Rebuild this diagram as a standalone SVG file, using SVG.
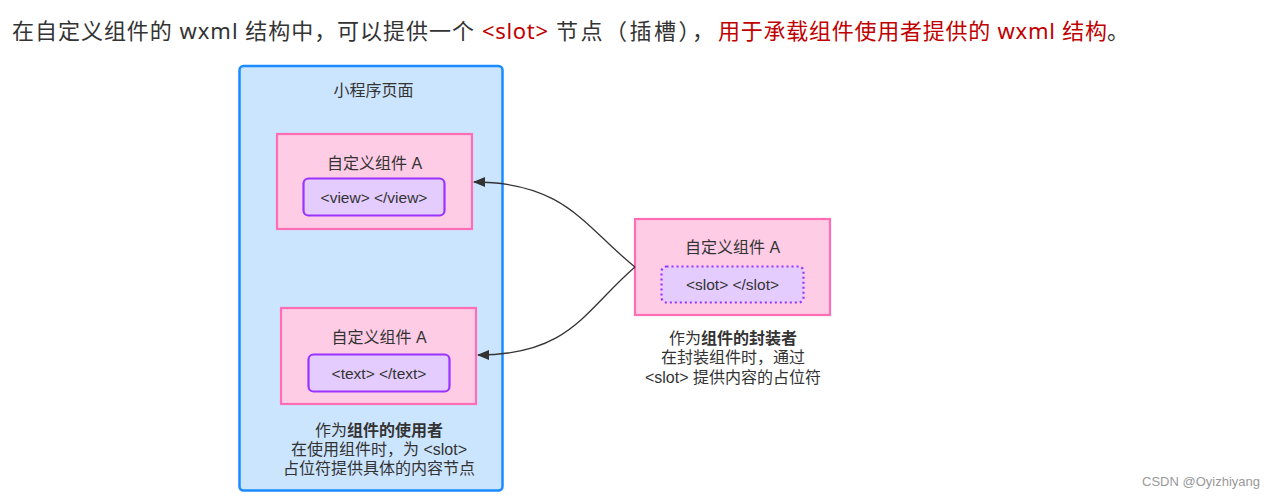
<svg xmlns="http://www.w3.org/2000/svg" width="1275" height="500" viewBox="0 0 1275 500">
<defs>
<style>
text{font-family:"Liberation Sans","Noto Sans CJK SC",sans-serif;fill:#333}
.h{font-size:22px;font-family:"Noto Sans","Noto Sans CJK SC",sans-serif}
.red{fill:#c00000}
.lbl{font-size:16px;text-anchor:middle}
.in{font-size:15.5px;text-anchor:middle}
.cap{font-size:16px;text-anchor:middle}
.b{font-weight:bold}
.comp{fill:#ffcce6;stroke:#ff6eb4;stroke-width:2.2}
.slot{fill:#e5ccff;stroke:#9933ff;stroke-width:2.2}
.conn{fill:none;stroke:#333;stroke-width:1.3}
</style>
<marker id="arr" markerWidth="12" markerHeight="10" refX="11" refY="5" orient="auto" markerUnits="userSpaceOnUse">
<path d="M0,0 L12,5 L0,10 Z" fill="#333"/>
</marker>
</defs>
<rect width="1275" height="500" fill="#fff"/>
<g id="header">
<text class="h" x="12" y="39" textLength="462">在自定义组件的 wxml 结构中，可以提供一个</text>
<text class="h red" x="482" y="39" textLength="66">&lt;slot&gt;</text>
<text class="h" x="556" y="39" textLength="158">节点（插槽），</text>
<text class="h red" x="718" y="39" textLength="389">用于承载组件使用者提供的 wxml 结构</text>
<text class="h" x="1107" y="39">。</text>
</g>

<g id="page">
<rect x="239.5" y="66" width="263" height="424.5" rx="4" fill="#cce5ff" stroke="#1a8cff" stroke-width="2.5"/>
<text class="lbl" x="373.5" y="96">小程序页面</text>
</g>

<g id="compA-view">
<rect class="comp" x="277" y="134" width="195" height="95"/>
<text class="lbl" x="374.5" y="169">自定义组件 A</text>
<rect class="slot" x="303.5" y="178.5" width="141" height="37" rx="5"/>
<text class="in" x="374" y="203">&lt;view&gt; &lt;/view&gt;</text>
</g>

<g id="compA-text">
<rect class="comp" x="281" y="308" width="195" height="96"/>
<text class="lbl" x="379" y="343">自定义组件 A</text>
<rect class="slot" x="308.5" y="354.5" width="141" height="37" rx="5"/>
<text class="in" x="379" y="379">&lt;text&gt; &lt;/text&gt;</text>
</g>

<g id="user-caption">
<text class="cap" x="379" y="435.5">作为<tspan class="b">组件的使用者</tspan></text>
<text class="cap" x="379" y="454.5">在使用组件时，为 &lt;slot&gt;</text>
<text class="cap" x="379" y="473.5">占位符提供具体的内容节点</text>
</g>

<g id="compA-slot">
<rect class="comp" x="635" y="219" width="195" height="96"/>
<text class="lbl" x="732.5" y="253">自定义组件 A</text>
<rect x="661.5" y="266.5" width="142" height="36" rx="5" fill="#e5ccff" stroke="#9933ff" stroke-width="2.2" stroke-dasharray="2,3"/>
<text class="in" x="732.5" y="290">&lt;slot&gt; &lt;/slot&gt;</text>
</g>

<g id="wrapper-caption">
<text class="cap" x="733" y="344">作为<tspan class="b">组件的封装者</tspan></text>
<text class="cap" x="733" y="363">在封装组件时，通过</text>
<text class="cap" x="733" y="383">&lt;slot&gt; 提供内容的占位符</text>
</g>

<g id="connectors">
<path class="conn" d="M635,267 C585,227 565,182 474,182" marker-end="url(#arr)"/>
<path class="conn" d="M635,267 C585,310 570,355 478,355" marker-end="url(#arr)"/>
</g>

<text x="1260" y="486" font-size="13" text-anchor="end" style="fill:#999;font-family:'Liberation Sans',sans-serif">CSDN @Oyizhiyang</text>
</svg>
